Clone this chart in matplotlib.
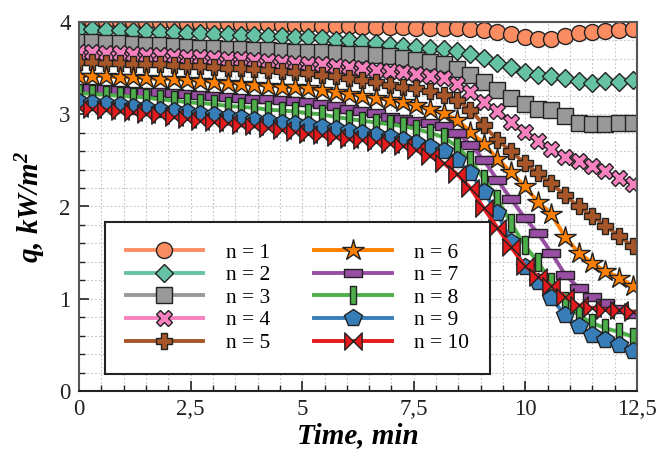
import numpy as np
import matplotlib
matplotlib.use('Agg')
import matplotlib.pyplot as plt
from matplotlib.path import Path
from matplotlib.ticker import MultipleLocator, FuncFormatter

# ---------------- data ----------------
time_min = [0.0, 0.3, 0.6, 0.91, 1.21, 1.51, 1.81, 2.12, 2.42, 2.72, 3.02, 3.33, 3.63, 3.93,
            4.23, 4.54, 4.84, 5.14, 5.44, 5.75, 6.05, 6.35, 6.65, 6.96, 7.26, 7.56, 7.86, 8.17,
            8.47, 8.77, 9.07, 9.37, 9.68, 9.98, 10.28, 10.58, 10.89, 11.19, 11.49, 11.79, 12.1, 12.4]

q_n1 = [4.01, 4.01, 4.01, 4.01, 4.00, 4.00, 4.00, 4.00, 3.99, 3.99, 3.99, 3.99, 3.98, 3.98,
        3.98, 3.97, 3.97, 3.97, 3.96, 3.96, 3.96, 3.95, 3.95, 3.95, 3.95, 3.94, 3.94, 3.94,
        3.93, 3.92, 3.91, 3.89, 3.87, 3.84, 3.82, 3.82, 3.85, 3.88, 3.89, 3.90, 3.91, 3.92]
q_n2 = [3.92, 3.92, 3.91, 3.91, 3.90, 3.90, 3.89, 3.89, 3.88, 3.88, 3.87, 3.87, 3.86, 3.86,
        3.85, 3.85, 3.84, 3.84, 3.83, 3.81, 3.80, 3.78, 3.77, 3.75, 3.74, 3.73, 3.72, 3.71,
        3.69, 3.65, 3.61, 3.56, 3.51, 3.46, 3.43, 3.41, 3.39, 3.36, 3.34, 3.36, 3.35, 3.37]
q_n3 = [3.78, 3.78, 3.77, 3.77, 3.76, 3.75, 3.75, 3.74, 3.73, 3.72, 3.72, 3.71, 3.71, 3.70,
        3.70, 3.69, 3.68, 3.67, 3.67, 3.66, 3.65, 3.65, 3.64, 3.63, 3.61, 3.59, 3.57, 3.54,
        3.49, 3.43, 3.35, 3.26, 3.18, 3.11, 3.06, 3.05, 2.98, 2.90, 2.89, 2.89, 2.90, 2.90]
q_n4 = [3.67, 3.67, 3.66, 3.66, 3.65, 3.64, 3.64, 3.63, 3.62, 3.62, 3.61, 3.60, 3.60, 3.59,
        3.58, 3.57, 3.56, 3.55, 3.54, 3.52, 3.51, 3.50, 3.48, 3.47, 3.46, 3.44, 3.42, 3.39,
        3.33, 3.24, 3.13, 3.03, 2.92, 2.81, 2.71, 2.62, 2.54, 2.49, 2.44, 2.38, 2.31, 2.24]
q_n5 = [3.57, 3.57, 3.56, 3.56, 3.55, 3.54, 3.54, 3.53, 3.52, 3.52, 3.51, 3.50, 3.50, 3.49,
        3.48, 3.47, 3.46, 3.45, 3.43, 3.41, 3.39, 3.37, 3.35, 3.32, 3.30, 3.28, 3.25, 3.21,
        3.15, 3.05, 2.88, 2.72, 2.60, 2.47, 2.36, 2.25, 2.12, 2.00, 1.90, 1.79, 1.68, 1.57]
q_n6 = [3.42, 3.42, 3.41, 3.40, 3.40, 3.39, 3.38, 3.38, 3.37, 3.36, 3.35, 3.34, 3.33, 3.32,
        3.31, 3.30, 3.29, 3.28, 3.26, 3.24, 3.22, 3.20, 3.18, 3.15, 3.13, 3.10, 3.06, 3.01,
        2.94, 2.81, 2.68, 2.52, 2.37, 2.22, 2.05, 1.92, 1.67, 1.50, 1.39, 1.30, 1.23, 1.14]
q_n7 = [3.28, 3.28, 3.27, 3.26, 3.25, 3.24, 3.24, 3.23, 3.22, 3.21, 3.20, 3.19, 3.18, 3.17,
        3.16, 3.15, 3.14, 3.13, 3.11, 3.09, 3.06, 3.04, 3.01, 2.97, 2.95, 2.93, 2.90, 2.87,
        2.80, 2.67, 2.50, 2.29, 2.08, 1.88, 1.71, 1.50, 1.26, 1.12, 1.02, 0.95, 0.89, 0.83]
q_n8 = [3.23, 3.22, 3.21, 3.20, 3.19, 3.18, 3.16, 3.15, 3.13, 3.12, 3.11, 3.09, 3.08, 3.07,
        3.05, 3.04, 3.03, 3.01, 3.00, 2.97, 2.95, 2.93, 2.91, 2.89, 2.87, 2.84, 2.80, 2.75,
        2.65, 2.50, 2.30, 2.08, 1.82, 1.58, 1.40, 1.18, 0.98, 0.82, 0.74, 0.68, 0.64, 0.59]
q_n9 = [3.13, 3.12, 3.11, 3.10, 3.08, 3.07, 3.05, 3.04, 3.02, 3.00, 2.99, 2.97, 2.96, 2.94,
        2.93, 2.91, 2.89, 2.88, 2.86, 2.84, 2.82, 2.80, 2.78, 2.75, 2.72, 2.69, 2.65, 2.60,
        2.50, 2.36, 2.16, 1.93, 1.62, 1.34, 1.18, 1.01, 0.82, 0.70, 0.61, 0.55, 0.50, 0.43]
q_n10 = [3.07, 3.06, 3.05, 3.03, 3.02, 3.00, 2.99, 2.97, 2.95, 2.93, 2.92, 2.90, 2.88, 2.87,
         2.85, 2.83, 2.81, 2.79, 2.77, 2.75, 2.73, 2.72, 2.70, 2.68, 2.66, 2.61, 2.55, 2.47,
         2.35, 2.20, 1.98, 1.77, 1.56, 1.36, 1.24, 1.14, 1.02, 0.93, 0.90, 0.88, 0.88, 0.86]

series_labels = ['n = 1', 'n = 2', 'n = 3', 'n = 4', 'n = 5',
                 'n = 6', 'n = 7', 'n = 8', 'n = 9', 'n = 10']
x_ticks = [0, 2.5, 5, 7.5, 10, 12.5]
y_ticks = [0, 1, 2, 3, 4]

# ---------------- style ----------------
plt.rcParams['font.family'] = ['Liberation Serif', 'DejaVu Serif']
plt.rcParams['mathtext.default'] = 'regular'

M, L, C = Path.MOVETO, Path.LINETO, Path.CLOSEPOLY
rect_h = Path([(-1, -0.42), (1, -0.42), (1, 0.42), (-1, 0.42), (-1, -0.42)], [M, L, L, L, C])
rect_v = Path([(-0.36, -1), (0.36, -1), (0.36, 1), (-0.36, 1), (-0.36, -1)], [M, L, L, L, C])
bowtie = Path([(-1, -1), (0, 0), (-1, 1), (-1, -1), (1, -1), (0, 0), (1, 1), (1, -1)],
              [M, L, L, C, M, L, L, C])

colors = ['#FC8D62', '#66C2A5', '#999999', '#F781BF', '#A65628',
          '#FF7F00', '#984EA3', '#4DAF4A', '#377EB8', '#E41A1C']
markers = ['o', 'D', 's', 'X', 'P', '*', rect_h, rect_v, 'p', bowtie]
msizes = [11.5, 9.4, 11, 12, 12, 16, 13, 13, 13, 12.5]

all_q = [q_n1, q_n2, q_n3, q_n4, q_n5, q_n6, q_n7, q_n8, q_n9, q_n10]

fig = plt.figure(figsize=(6.6, 4.61), dpi=100)
ax = fig.add_axes([79 / 660, 70 / 461, 558 / 660, 369 / 461])

for q, lab, col, mk, ms in zip(all_q, series_labels, colors, markers, msizes):
    ax.plot(time_min, q, color=col, lw=2.8, marker=mk, markersize=ms,
            markerfacecolor=col, markeredgecolor='#222222', markeredgewidth=1.0,
            label=lab)

ax.set_xlim(0, 12.5)
ax.set_ylim(0, 4)
ax.set_xticks(x_ticks)
ax.set_yticks(y_ticks)
ax.xaxis.set_minor_locator(MultipleLocator(0.5))
ax.yaxis.set_minor_locator(MultipleLocator(0.2))
ax.xaxis.set_major_formatter(FuncFormatter(lambda v, p: ('%g' % v).replace('.', ',')))
ax.yaxis.set_major_formatter(FuncFormatter(lambda v, p: '%g' % v))

ax.grid(True, which='both', linestyle=(0, (1.5, 2.0)), color='#c4c4c4', linewidth=0.8)
ax.set_axisbelow(True)
ax.tick_params(which='both', direction='in', top=False, right=False, colors='#222222')
ax.tick_params(which='major', length=7, width=1.2, labelsize=16.5, pad=6)
ax.tick_params(which='minor', length=4, width=1.0)
for s in ax.spines.values():
    s.set_color('#555555')
    s.set_linewidth(1.5)
ax.spines['bottom'].set_color('#222222')

ax.set_xlabel('Time, min', fontsize=21, fontweight='bold', fontstyle='italic')
ax.xaxis.set_label_coords(0.5, -0.085)
ax.set_ylabel('q, kW/m$^2$', fontsize=21, fontweight='bold', fontstyle='italic')
ax.yaxis.set_label_coords(-0.055, 0.5)

leg = ax.legend(ncol=2, loc='upper left', bbox_to_anchor=(0.047, 0.458),
                borderaxespad=0.0, markerscale=1.0,
                fontsize=15.5, handlelength=3.6, handletextpad=1.05, columnspacing=2.05,
                labelspacing=0.12, borderpad=0.95, fancybox=False, framealpha=1,
                edgecolor='#222222')
leg.get_frame().set_linewidth(1.5)

fig.savefig('out.png', dpi=100)
